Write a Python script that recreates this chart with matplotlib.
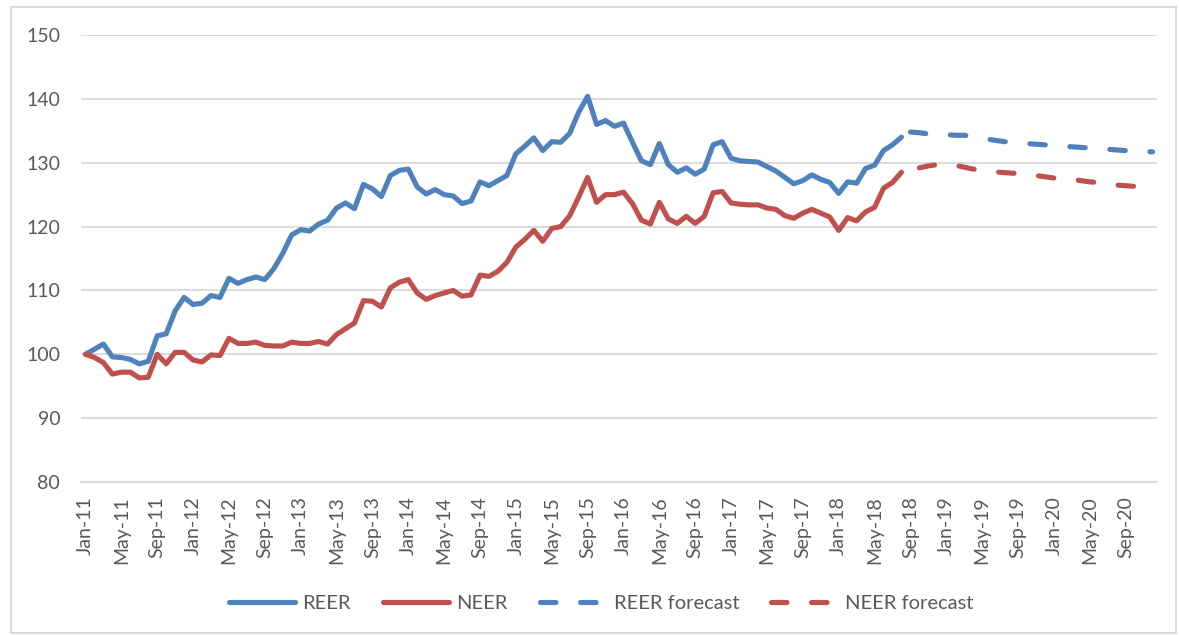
import matplotlib
matplotlib.use("Agg")
import matplotlib.pyplot as plt
import pandas as pd
from matplotlib.patches import Rectangle

# ---- data ----
months = [d.strftime('%b-%y') for d in pd.date_range('2011-01-01', periods=120, freq='MS')]

reer = [100.0, 100.8, 101.6, 99.6, 99.5, 99.2, 98.5, 98.9, 102.9, 103.2,
        106.8, 108.9, 107.8, 108.0, 109.2, 108.9, 111.9, 111.1, 111.7, 112.1,
        111.7, 113.4, 115.8, 118.7, 119.5, 119.3, 120.4, 121.0, 122.9, 123.7,
        122.8, 126.6, 125.9, 124.7, 128.0, 128.8, 129.0, 126.2, 125.1, 125.8,
        125.0, 124.8, 123.6, 124.0, 127.0, 126.4, 127.2, 128.0, 131.4, 132.6,
        133.9, 131.9, 133.3, 133.2, 134.6, 137.9, 140.4, 136.0, 136.6, 135.7,
        136.2, 133.2, 130.3, 129.7, 133.0, 129.7, 128.5, 129.2, 128.2, 129.0,
        132.8, 133.3, 130.7, 130.3, 130.2, 130.1, 129.4, 128.7, 127.7, 126.7,
        127.2, 128.1, 127.4, 126.9, 125.2, 127.0, 126.8, 129.1, 129.6, 131.9,
        132.8, 134.0]

neer = [100.0, 99.5, 98.7, 96.9, 97.2, 97.2, 96.3, 96.4, 100.0, 98.5,
        100.3, 100.3, 99.1, 98.8, 99.9, 99.8, 102.5, 101.7, 101.7, 101.9,
        101.4, 101.3, 101.3, 101.9, 101.7, 101.7, 102.0, 101.6, 103.1, 104.0,
        104.9, 108.4, 108.3, 107.4, 110.4, 111.3, 111.7, 109.6, 108.6, 109.2,
        109.6, 110.0, 109.1, 109.3, 112.4, 112.2, 113.0, 114.4, 116.8, 118.0,
        119.4, 117.7, 119.7, 120.0, 121.7, 124.6, 127.7, 123.8, 125.0, 125.0,
        125.4, 123.6, 121.0, 120.4, 123.8, 121.2, 120.5, 121.6, 120.5, 121.6,
        125.3, 125.5, 123.7, 123.5, 123.4, 123.4, 122.9, 122.7, 121.7, 121.3,
        122.1, 122.7, 122.1, 121.5, 119.4, 121.4, 120.9, 122.3, 123.0, 126.0,
        126.9, 128.5]

reer_fc_start = 92
reer_fc = [134.8, 134.7, 134.5, 134.4, 134.4, 134.3, 134.3, 134.1, 133.8, 133.6,
           133.4, 133.2, 133.1, 133.0, 132.9, 132.8, 132.7, 132.6, 132.5, 132.4,
           132.3, 132.2, 132.1, 132.0, 131.9, 131.85, 131.8, 131.7]

neer_fc_start = 93
neer_fc = [129.2, 129.5, 129.7, 129.7, 129.6, 129.3, 129.0, 128.8, 128.6, 128.5,
           128.4, 128.3, 128.1, 128.0, 127.8, 127.6, 127.5, 127.4, 127.2, 127.0,
           126.9, 126.7, 126.5, 126.4, 126.3, 126.2, 126.1]

series_names = ['REER', 'NEER', 'REER forecast', 'NEER forecast']
blue = '#4f81bd'
red = '#c0504d'
txt = '#595959'
grid = '#d9d9d9'

plt.rcParams['font.family'] = ['Lato', 'DejaVu Sans']

W, H = 1179, 635
fig = plt.figure(figsize=(W / 100, H / 100), dpi=100)
L, R, T, B = 81, 1157, 35, 482
ax = fig.add_axes([L / W, (H - B) / H, (R - L) / W, (B - T) / H])

lw = 3.7
x_act = list(range(len(reer)))
ax.plot(x_act, reer, color=blue, lw=lw, solid_joinstyle='round', solid_capstyle='round', label=series_names[0])
ax.plot(x_act, neer, color=red, lw=lw, solid_joinstyle='round', solid_capstyle='round', label=series_names[1])
ax.plot(range(reer_fc_start, reer_fc_start + len(reer_fc)), reer_fc, color=blue, lw=lw,
        linestyle=(0, (3.0, 4.8)), dash_capstyle='round', label=series_names[2])
ax.plot(range(neer_fc_start, neer_fc_start + len(neer_fc)), neer_fc, color=red, lw=lw,
        linestyle=(0, (3.0, 4.8)), dash_capstyle='round', label=series_names[3])

ax.set_xlim(-0.5, 119.5)
ax.set_ylim(80, 150)
ax.set_yticks(range(80, 151, 10))
ax.set_xticks(range(0, 120, 4))
ax.set_xticklabels([months[i] for i in range(0, 120, 4)], rotation=90)
ax.tick_params(axis='both', length=0, labelsize=14, colors=txt)
ax.tick_params(axis='x', pad=10)
ax.tick_params(axis='y', pad=15)
ax.grid(axis='y', color=grid, lw=1.3)
ax.set_axisbelow(True)
for s in ['top', 'right', 'left']:
    ax.spines[s].set_visible(False)
ax.spines['bottom'].set_color(grid)
ax.spines['bottom'].set_linewidth(1.3)

leg = fig.legend(loc='center', bbox_to_anchor=(601 / W, 1 - 603 / H), ncol=4, frameon=False,
                 fontsize=14.5, handlelength=3.3, columnspacing=1.6, handletextpad=0.35)
for t in leg.get_texts():
    t.set_color(txt)

fig.patches.append(Rectangle((11 / W, 2 / H), 1165 / W, 1 - 9 / H, transform=fig.transFigure,
                             fill=False, edgecolor=grid, lw=1.3))

fig.savefig('out.png', dpi=100)
